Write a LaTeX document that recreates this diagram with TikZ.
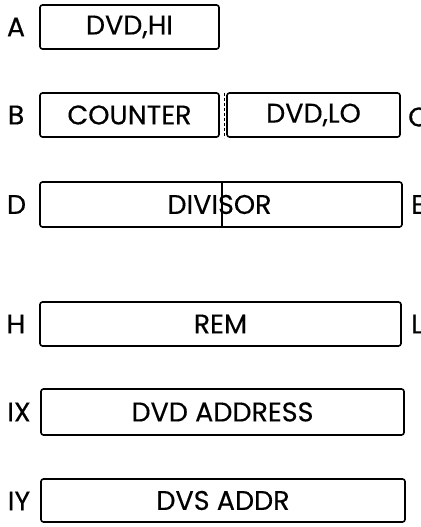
\documentclass[tikz,border=0pt]{standalone}
\usepackage{fontspec}
\setmainfont{Poppins}[FakeBold=0.3]
\begin{document}
\begin{tikzpicture}[x=1pt,y=1pt,
  reg/.style={draw, line width=1.6pt, rounded corners=2.5pt, minimum height=44pt, inner sep=0pt},
  lbl/.style={inner sep=0pt},
  every node/.style={font=\fontsize{27}{30}\selectfont}
]
\useasboundingbox (0,0) rectangle (420,527);
% registers
\node[reg, minimum width=179pt] (dvdhi) at (129.5,500) {DVD,HI};
\node[reg, minimum width=179pt] (counter) at (129.5,412) {COUNTER};
\node[reg, minimum width=173pt] (dvdlo) at (313.5,412) {DVD,LO};
\node[reg, minimum width=362pt, minimum height=45pt] (divisor) at (221,322.5) {};
\node (divtxt) at (219.5,322.5) {DIVISOR};
\node[reg, minimum width=361pt] (rem) at (220.5,203) {REM};
\node[reg, minimum width=363pt, minimum height=46pt] (dvdaddr) at (222.5,115) {DVD ADDRESS};
\node[reg, minimum width=364pt, minimum height=43pt] (dvsaddr) at (223,26.5) {DVS ADDR};
% register names
\node[lbl] (la) at (16,500) {A};
\node[lbl] (lb) at (16,412) {B};
\node[lbl, anchor=west] (lc) at (408,410) {C};
\node[lbl] (ld) at (16.5,322.5) {D};
\node[lbl, anchor=west] (le) at (411,322.5) {E};
\node[lbl] (lh) at (16,203) {H};
\node[lbl, anchor=west] (ll) at (411,203) {L};
\node[lbl] (lix) at (19,115) {IX};
\node[lbl] (liy) at (19,26) {IY};
% byte split
\draw[line width=0.8pt, dash pattern=on 3pt off 2pt] (224,434) -- (224,389);
\draw[line width=1.2pt] (divisor.north) ++(1,0) -- ++(0,-45);
\end{tikzpicture}
\end{document}
